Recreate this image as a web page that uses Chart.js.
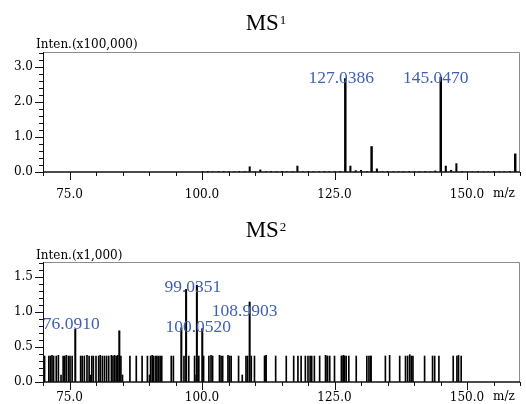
<!DOCTYPE html>
<html><head><meta charset="utf-8">
<script src="https://cdn.jsdelivr.net/npm/chart.js@4/dist/chart.umd.min.js"></script>
<style>
html,body{margin:0;padding:0;background:#fff;width:526px;height:404px;overflow:hidden}
canvas{position:absolute;left:0}
#c1{top:0}
#c2{top:200px}
</style></head><body>
<canvas id="c1" width="526" height="200"></canvas>
<canvas id="c2" width="526" height="204"></canvas>
<script>
// ---------- data ----------
const xTickLabels = ['75.0', '100.0', '125.0', '150.0'];

// MS1 (Inten. x100,000)
const ms1YTickLabels = ['0.0', '1.0', '2.0', '3.0'];
const ms1MajorMz  = [127.0386, 132.0, 145.0470, 159.1];
const ms1MajorInt = [2.68, 0.73, 2.72, 0.52];
const ms1MinorMz  = [109.0, 111.0, 118.0, 128.0, 129.0, 130.0, 133.0, 144.0, 146.0, 147.0, 148.0];
const ms1MinorInt = [0.15, 0.06, 0.17, 0.17, 0.04, 0.05, 0.09, 0.03, 0.17, 0.05, 0.24];
const ms1NoiseMz  = [100.1, 101.1, 102.0, 103.1, 104.1, 105.0, 106.1, 107.0, 108.1, 110.1, 112.1, 113.0, 114.1, 115.1, 116.0, 117.1, 119.1, 120.1, 121.0, 122.1, 123.1, 124.0, 125.1, 126.1, 131.1, 134.1, 135.0, 136.1, 137.1, 138.0, 139.1, 140.1, 141.0, 142.1, 143.1, 149.1, 150.1, 151.0, 152.1, 153.1, 154.0, 155.1, 156.1, 157.0, 158.1];
const ms1NoiseInt = [0.01, 0.02, 0.01, 0.01, 0.02, 0.01, 0.01, 0.02, 0.01, 0.01, 0.01, 0.02, 0.01, 0.02, 0.01, 0.01, 0.01, 0.02, 0.01, 0.01, 0.02, 0.01, 0.01, 0.02, 0.01, 0.01, 0.02, 0.01, 0.01, 0.01, 0.02, 0.01, 0.01, 0.02, 0.01, 0.02, 0.01, 0.01, 0.02, 0.01, 0.01, 0.02, 0.01, 0.01, 0.02];
const ms1LabelMz  = [127.0386, 145.0470];

// MS2 (Inten. x1,000)
const ms2YTickLabels = ['0.0', '0.5', '1.0', '1.5'];
const ms2MajorMz  = [76.0910, 84.4, 96.1, 97.0, 99.0351, 100.0520, 108.9903];
const ms2MajorInt = [0.75, 0.73, 0.77, 1.32, 1.38, 0.76, 1.14];
const ms2NoiseMz  = [70.3, 71.1, 71.4, 71.7, 72.0, 72.5, 72.9, 73.4, 73.8, 74.1, 74.4, 74.8, 75.1, 75.5, 77.1, 77.4, 77.8, 78.3, 78.7, 78.9, 79.2, 79.5, 80.0, 80.5, 80.8, 81.2, 81.6, 82.0, 82.4, 82.9, 83.2, 83.5, 83.8, 84.1, 84.7, 85.0, 86.4, 87.6, 88.7, 89.7, 90.1, 90.3, 90.6, 90.9, 91.3, 91.5, 91.8, 92.1, 92.4, 94.2, 94.6, 96.6, 97.5, 98.6, 98.9, 99.4, 100.3, 101.3, 101.7, 102.0, 103.3, 103.6, 103.9, 104.9, 105.2, 105.5, 106.9, 107.6, 108.3, 108.6, 109.3, 109.9, 111.8, 111.9, 112.1, 113.9, 115.9, 117.3, 118.1, 118.7, 119.5, 120.0, 120.4, 120.7, 121.2, 122.2, 123.3, 123.6, 123.7, 124.1, 125.0, 126.3, 126.4, 126.7, 126.9, 127.2, 127.7, 129.1, 131.1, 131.5, 131.8, 131.9, 134.6, 135.4, 137.3, 138.4, 138.8, 139.2, 139.5, 139.8, 142.0, 143.5, 143.9, 144.7, 147.4, 148.1, 148.4, 148.9];
const ms2NoiseInt = [0.37, 0.37, 0.37, 0.38, 0.37, 0.37, 0.38, 0.10, 0.37, 0.37, 0.38, 0.37, 0.37, 0.37, 0.37, 0.37, 0.37, 0.38, 0.37, 0.10, 0.37, 0.37, 0.37, 0.37, 0.38, 0.37, 0.37, 0.37, 0.37, 0.38, 0.37, 0.38, 0.37, 0.38, 0.37, 0.10, 0.37, 0.37, 0.37, 0.37, 0.10, 0.37, 0.38, 0.37, 0.37, 0.37, 0.37, 0.37, 0.37, 0.37, 0.37, 0.37, 0.37, 0.37, 0.10, 0.37, 0.37, 0.37, 0.38, 0.37, 0.38, 0.37, 0.37, 0.38, 0.37, 0.37, 0.37, 0.10, 0.37, 0.37, 0.37, 0.37, 0.37, 0.37, 0.38, 0.37, 0.37, 0.37, 0.37, 0.37, 0.37, 0.37, 0.37, 0.37, 0.37, 0.37, 0.38, 0.37, 0.37, 0.37, 0.37, 0.37, 0.37, 0.38, 0.37, 0.37, 0.37, 0.37, 0.37, 0.37, 0.37, 0.37, 0.37, 0.38, 0.37, 0.37, 0.37, 0.39, 0.37, 0.37, 0.37, 0.37, 0.37, 0.37, 0.37, 0.37, 0.38, 0.37, 0.37, 0.37];
const ms2LabelMz  = [76.0910, 99.0351, 100.0520, 108.9903];

// ---------- styling ----------
const TICK_FONT = 'DejaVu Serif';
const LABEL_FONT = 'Liberation Serif';
const BLUE = '#3f5fb6';
// label offsets (px) relative to peak top: [dx, dy]
const ms1LabelOffsets = [[-4, 0], [-5, 1.5]];
const ms2LabelOffsets = [[-4, -5], [-4, 2.5], [-4, -1], [-5, 9]];

Chart.defaults.font.family = TICK_FONT;

function pts(mz, it) { return mz.map((m, i) => ({x: m, y: it[i]})); }
function isLabel(v, labels) { return labels.includes(Number(v).toFixed(1)); }

function makeChart(id, cfg) {
  const specPlugin = {
    id: 'spec' + id,
    afterDraw(chart) {
      const {ctx, chartArea: a, scales: {x, y}} = chart;
      ctx.save();
      // gray frame (top, right)
      ctx.strokeStyle = '#8c8c8c'; ctx.lineWidth = 1;
      ctx.beginPath();
      ctx.moveTo(a.left, a.top + 0.5); ctx.lineTo(a.right - 0.5, a.top + 0.5); ctx.lineTo(a.right - 0.5, a.bottom);
      ctx.stroke();
      // axes
      ctx.strokeStyle = '#111';
      ctx.lineWidth = 1;
      ctx.beginPath(); ctx.moveTo(a.left + 0.5, a.top); ctx.lineTo(a.left + 0.5, a.bottom); ctx.stroke();
      ctx.lineWidth = 1.6;
      ctx.beginPath(); ctx.moveTo(a.left, a.bottom); ctx.lineTo(a.right, a.bottom); ctx.stroke();
      // ticks
      ctx.lineWidth = 1;
      x.ticks.forEach(t => {
        const px = Math.round(x.getPixelForValue(t.value)) + 0.5;
        const len = isLabel(t.value, xTickLabels) ? 8 : 4;
        ctx.beginPath(); ctx.moveTo(px, a.bottom); ctx.lineTo(px, a.bottom + len); ctx.stroke();
      });
      y.ticks.forEach(t => {
        const py = Math.round(y.getPixelForValue(t.value)) + 0.5;
        const len = isLabel(t.value, cfg.yLabels) ? 8 : 4;
        ctx.beginPath(); ctx.moveTo(a.left, py); ctx.lineTo(a.left - len, py); ctx.stroke();
      });
      // peak labels
      ctx.fillStyle = BLUE;
      ctx.font = '17.5px "' + LABEL_FONT + '"';
      ctx.textAlign = 'center'; ctx.textBaseline = 'middle';
      cfg.labelMz.forEach((m, i) => {
        const k = cfg.majorMz.indexOf(m);
        const px = x.getPixelForValue(m) + cfg.labelOffsets[i][0];
        const py = y.getPixelForValue(cfg.majorInt[k]) + cfg.labelOffsets[i][1];
        ctx.fillText(m.toFixed(4), px, py);
      });
      // title
      ctx.fillStyle = '#000';
      ctx.textAlign = 'left'; ctx.textBaseline = 'alphabetic';
      ctx.font = '23px "' + LABEL_FONT + '"';
      const w1 = ctx.measureText('MS').width;
      ctx.font = '13px "' + LABEL_FONT + '"';
      const w2 = ctx.measureText(cfg.sup).width;
      const tx = 266 - (w1 + 1 + w2) / 2;
      ctx.font = '23px "' + LABEL_FONT + '"';
      ctx.fillText('MS', tx, cfg.titleY);
      ctx.font = '13px "' + LABEL_FONT + '"';
      ctx.fillText(cfg.sup, tx + w1 + 1, cfg.titleY - 6.5);
      // axis captions
      ctx.font = '12px "' + TICK_FONT + '"';
      ctx.fillText(cfg.yTitle, 36, cfg.yTitleY);
      ctx.fillText('m/z', 493, a.bottom + cfg.mzDy);
      ctx.restore();
    }
  };
  return new Chart(document.getElementById(id), {
    type: 'bar',
    data: {
      datasets: cfg.datasets
    },
    options: {
      responsive: false,
      animation: false,
      devicePixelRatio: 1,
      layout: {padding: {left: 0, right: 6, top: cfg.padTop, bottom: 0}},
      plugins: {legend: {display: false}, tooltip: {enabled: false}, title: {display: false}},
      datasets: {bar: {grouped: false}},
      scales: {
        x: {
          type: 'linear', min: 70, max: 160, offset: false,
          grid: {display: false, drawTicks: true, tickLength: cfg.xTickLen},
          border: {display: false},
          ticks: {
            stepSize: 5, autoSkip: false, maxRotation: 0, includeBounds: false,
            padding: cfg.xTickPad, color: '#000', font: {family: TICK_FONT, size: 12},
            callback: v => isLabel(v, xTickLabels) ? Number(v).toFixed(1) : ''
          },
          afterFit: s => { s.height = cfg.xHeight; s.paddingRight = 0; s.paddingLeft = 0; }
        },
        y: {
          type: 'linear', min: 0, max: cfg.yMax,
          grid: {display: false, drawTicks: false},
          border: {display: false},
          ticks: {
            stepSize: cfg.yStep, autoSkip: false, includeBounds: false,
            padding: 10, color: '#000', font: {family: TICK_FONT, size: 12},
            callback: v => isLabel(v, cfg.yLabels) ? Number(v).toFixed(1) : ''
          },
          afterFit: s => { s.width = 43; s.paddingTop = 0; s.paddingBottom = 0; }
        }
      }
    },
    plugins: [specPlugin]
  });
}

makeChart('c1', {
  padTop: 52, xHeight: 28, yMax: 3.44, yStep: 0.2, yLabels: ms1YTickLabels,
  xTickLen: 10, xTickPad: 6, mzDy: 25,
  titleY: 30, sup: '1', yTitle: 'Inten.(x100,000)', yTitleY: 48,
  majorMz: ms1MajorMz, majorInt: ms1MajorInt, labelMz: ms1LabelMz, labelOffsets: ms1LabelOffsets,
  datasets: [
    {data: pts(ms1NoiseMz, ms1NoiseInt), backgroundColor: '#000', barThickness: 1, borderWidth: 0},
    {data: pts(ms1MinorMz, ms1MinorInt), backgroundColor: '#000', barThickness: 1.4, borderWidth: 0},
    {data: pts(ms1MajorMz, ms1MajorInt), backgroundColor: '#000', barThickness: 1.8, borderWidth: 0}
  ]
});

makeChart('c2', {
  padTop: 62, xHeight: 22, yMax: 1.71, yStep: 0.1, yLabels: ms2YTickLabels,
  xTickLen: 4, xTickPad: 5, mzDy: 18,
  titleY: 37, sup: '2', yTitle: 'Inten.(x1,000)', yTitleY: 59,
  majorMz: ms2MajorMz, majorInt: ms2MajorInt, labelMz: ms2LabelMz, labelOffsets: ms2LabelOffsets,
  datasets: [
    {data: pts(ms2NoiseMz, ms2NoiseInt), backgroundColor: '#000', barThickness: 1, borderWidth: 0},
    {data: pts(ms2MajorMz, ms2MajorInt), backgroundColor: '#000', barThickness: 1.4, borderWidth: 0}
  ]
});
</script>
</body></html>
